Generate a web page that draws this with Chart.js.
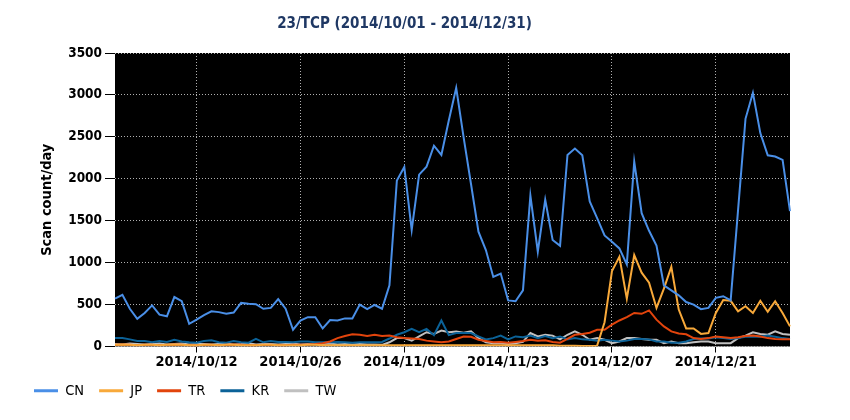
<!DOCTYPE html>
<html><head><meta charset="utf-8">
<script src="https://cdn.jsdelivr.net/npm/chart.js@4.4.1/dist/chart.umd.min.js"></script>
<style>html,body{margin:0;padding:0;background:#fff}#wrap{width:850px;height:420px;position:relative}</style>
</head><body><div id="wrap"><canvas id="c"></canvas></div>
<script>
// Categories: every day 2014/10/01 .. 2014/12/31
const days = [];
(function(){const d=new Date(Date.UTC(2014,9,1));for(let i=0;i<92;i++){const t=new Date(d.getTime()+i*86400000);days.push(t.getUTCFullYear()+'/'+String(t.getUTCMonth()+1).padStart(2,'0')+'/'+String(t.getUTCDate()).padStart(2,'0'));}})();
const tickLabels = ['2014/10/12','2014/10/26','2014/11/09','2014/11/23','2014/12/07','2014/12/21'];
const yTicks = [0,500,1000,1500,2000,2500,3000,3500];

const CN = [570,617,450,330,400,490,380,360,590,540,270,320,375,420,410,390,405,520,510,505,450,460,565,450,200,310,350,350,215,315,310,335,335,500,445,495,450,730,1980,2140,1390,2050,2145,2395,2285,2695,3085,2495,1935,1370,1150,830,870,550,540,670,1800,1130,1750,1270,1200,2285,2360,2280,1730,1530,1325,1250,1170,980,2205,1590,1380,1205,730,670,610,530,500,445,460,580,600,550,1630,2715,3025,2545,2280,2265,2225,1615];
const JP = [20,25,20,15,20,20,15,20,25,20,15,15,20,20,15,20,20,15,15,15,20,20,15,15,15,15,20,20,15,15,15,15,15,15,15,15,15,15,15,15,15,15,15,15,15,15,15,15,15,15,15,15,15,15,15,15,15,15,15,15,10,10,10,5,5,10,290,900,1070,570,1090,880,760,460,690,950,440,215,215,150,160,400,555,545,420,480,400,545,415,540,400,240];
const TR = [20,25,20,15,20,20,15,20,25,20,15,15,20,20,15,20,25,20,15,15,20,20,15,15,20,20,25,30,40,60,100,125,145,140,125,140,125,130,110,100,95,90,70,60,50,60,90,120,115,80,65,50,55,45,55,65,80,70,75,55,45,90,140,150,165,200,200,260,310,350,400,390,430,320,240,180,155,145,100,90,100,120,110,100,110,125,130,120,100,90,85,85];
const KR = [100,100,85,65,65,50,65,55,80,60,50,45,65,75,50,45,65,50,45,90,50,65,55,55,50,60,60,50,50,50,55,50,45,50,50,50,55,95,140,170,210,170,210,135,310,135,160,160,160,120,85,100,130,85,120,110,130,100,125,100,120,85,100,85,80,70,80,70,60,70,90,90,85,60,60,45,45,60,90,95,95,110,100,90,100,115,120,115,130,115,100,90];
const TW = [30,25,35,30,25,30,35,25,30,35,25,30,30,25,30,35,25,30,40,25,30,30,25,30,35,25,30,25,30,35,25,30,25,30,25,25,20,50,100,100,70,120,170,150,190,170,180,165,180,100,50,40,40,30,40,55,160,120,140,130,85,140,180,140,80,100,80,40,60,100,100,90,80,80,40,60,40,40,50,60,60,40,40,40,100,130,170,150,140,180,150,140];

const seriesNames = ['CN','JP','TR','KR','TW'];
const seriesColors = ['#4a8fe7','#f8a93a','#e2440c','#0b6298','#c0c0c0'];
const seriesData = [CN,JP,TR,KR,TW];

const FONT = "'DejaVu Sans Condensed','DejaVu Sans',sans-serif";

const bgPlugin = {
  id:'plotBg',
  beforeDraw(chart){
    const {ctx,chartArea:a}=chart;
    ctx.save();ctx.fillStyle='#000';ctx.fillRect(a.left,a.top,a.right-a.left,a.bottom-a.top);ctx.restore();
  }
};

new Chart(document.getElementById('c'),{
  type:'line',
  data:{
    labels:days,
    datasets:seriesNames.map((n,k)=>({
      label:n,data:seriesData[k],borderColor:seriesColors[k],backgroundColor:seriesColors[k],
      borderWidth:2,pointRadius:0,tension:0,fill:false
    }))
  },
  options:{
    responsive:true,maintainAspectRatio:false,animation:false,
    layout:{padding:{left:19,right:60,top:0,bottom:12}},
    plugins:{
      title:{display:true,text:'23/TCP (2014/10/01 - 2014/12/31)',color:'#1f3864',
        font:{family:FONT,size:15,weight:'bold'},padding:{top:15,bottom:20}},
      legend:{position:'bottom',align:'start',
        labels:{usePointStyle:true,pointStyle:'line',pointStyleWidth:24,boxHeight:3,padding:15,color:'#000',
          font:{family:FONT,size:14.5},
          generateLabels:chart=>Chart.defaults.plugins.legend.labels.generateLabels(chart).map(l=>Object.assign(l,{lineWidth:3,pointStyle:'line'}))}},
      tooltip:{enabled:false}
    },
    scales:{
      x:{
        ticks:{autoSkip:false,maxRotation:0,minRotation:0,color:'#000',font:{family:FONT,size:14.5,weight:'bold'},padding:1,
          callback:function(v){const l=this.getLabelForValue(v);return tickLabels.includes(l)?l:'';}},
        grid:{
          color:ctx=>tickLabels.includes(days[ctx.index])?'#b0b0b0':'rgba(0,0,0,0)',
          tickColor:ctx=>tickLabels.includes(days[ctx.index])?'#000':'rgba(0,0,0,0)',
          tickBorderDash:[],tickLength:6,lineWidth:1,drawOnChartArea:true
        },
        border:{display:false,dash:[1,2]},
        afterFit:s=>{s.height=22;}
      },
      y:{
        min:0,max:3500,
        afterBuildTicks:axis=>{axis.ticks=yTicks.map(v=>({value:v}));},
        ticks:{color:'#000',font:{family:FONT,size:13.5,weight:'bold'},padding:3,callback:v=>String(v)},
        grid:{color:'#b0b0b0',tickColor:'#000',tickBorderDash:[],tickLength:10,lineWidth:1},
        border:{display:false,dash:[1,2]},
        title:{display:true,text:'Scan count/day',color:'#000',font:{family:FONT,size:14.5,weight:'bold'},padding:{top:20,bottom:0}},
        afterFit:s=>{s.width=96;}
      }
    }
  },
  plugins:[bgPlugin]
});
</script></body></html>
